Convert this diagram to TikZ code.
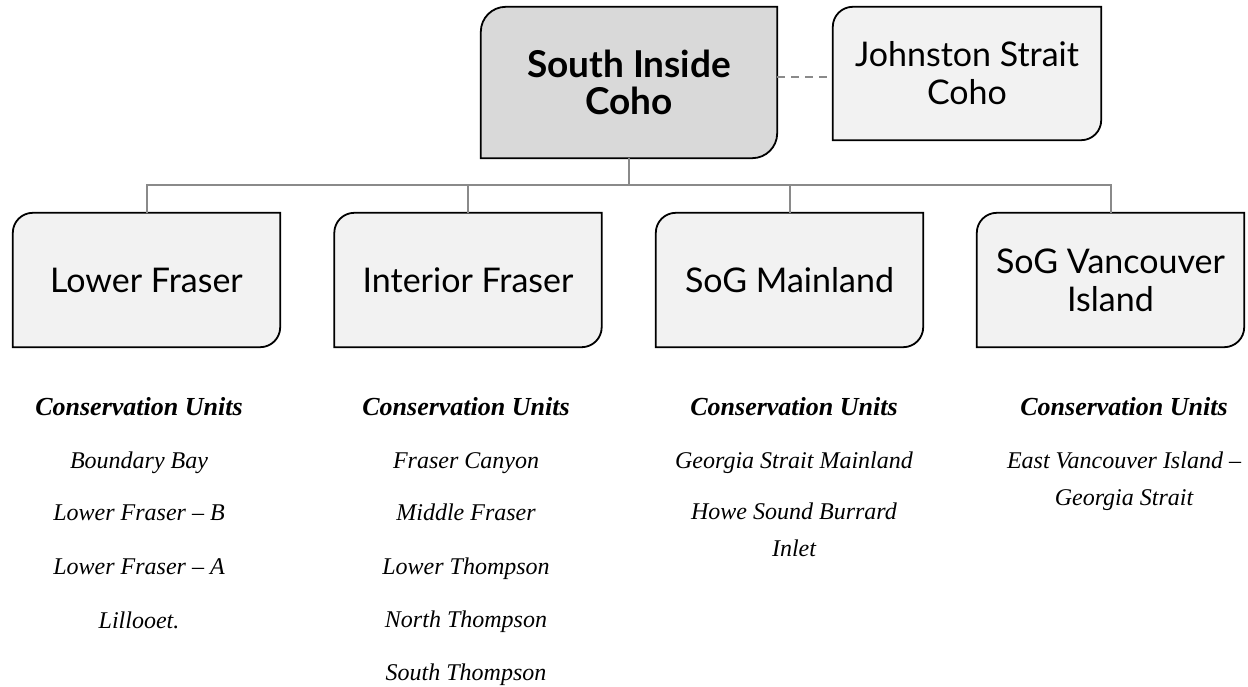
\documentclass[tikz,border=0pt]{standalone}
\usepackage{fontspec}
\setmainfont{Liberation Serif}
\newfontfamily\boxfont{Lato}
\usetikzlibrary{backgrounds}

\definecolor{rootfill}{HTML}{D9D9D9}
\definecolor{leaffill}{HTML}{F2F2F2}
\definecolor{linkgray}{HTML}{8A8A8A}

\tikzset{
  unitbox/.style={inner sep=0pt, align=center, minimum width=267pt, minimum height=134pt,
    font=\boxfont\fontsize{34}{38}\selectfont},
  rootbox/.style={unitbox, minimum width=296pt, minimum height=151pt,
    font=\boxfont\bfseries\fontsize{37}{37}\selectfont},
  sidebox/.style={unitbox, minimum width=268pt, minimum height=133pt},
  cuhead/.style={inner sep=0pt, anchor=base, font=\bfseries\itshape\fontsize{26}{30}\selectfont},
  cuitem/.style={inner sep=0pt, anchor=base, align=center, font=\itshape\fontsize{24}{37}\selectfont},
  link/.style={draw=linkgray, line width=2pt},
  looselink/.style={draw=linkgray, line width=2pt, dash pattern=on 8pt off 6pt},
  frame/.style={draw=black, line width=1.8pt}
}

% box outline with rounded top-left and bottom-right corners
\newcommand\cutframe[3]{% node, fill colour, corner radius
  \path[frame, fill=#2]
    ([yshift=-#3]#1.north west) arc[start angle=180, end angle=90, radius=#3]
    -- (#1.north east) -- ([yshift=#3]#1.south east)
    arc[start angle=0, end angle=-90, radius=#3] -- (#1.south west) -- cycle;}

\begin{document}
\begin{tikzpicture}[x=1pt, y=-1pt]
\useasboundingbox (0,0) rectangle (1248,687);

% group boxes
\node[rootbox] (root) at (629,82.5) {South Inside\\Coho};
\node[sidebox] (js) at (967,73.5) {Johnston Strait\\Coho};
\node[unitbox] (lf) at (146.5,280) {Lower Fraser};
\node[unitbox] (ifr) at (468,280) {Interior Fraser};
\node[unitbox] (sm) at (789.5,280) {SoG Mainland};
\node[unitbox] (vi) at (1110.5,280) {SoG Vancouver\\Island};

\begin{scope}[on background layer]
  \cutframe{root}{rootfill}{25pt}
  \cutframe{js}{leaffill}{20pt}
  \cutframe{lf}{leaffill}{20pt}
  \cutframe{ifr}{leaffill}{20pt}
  \cutframe{sm}{leaffill}{20pt}
  \cutframe{vi}{leaffill}{20pt}
\end{scope}

% connectors
\coordinate (bus) at (629,185.5);
\coordinate (sidey) at (800,77);
\draw[link] (root.south) -- (bus);
\draw[link] (lf.north) |- (bus);
\draw[link] (ifr.north) |- (bus);
\draw[link] (sm.north) |- (bus);
\draw[link] (vi.north) |- (bus);
\draw[looselink] (root.east |- sidey) -- (js.west |- sidey);

% conservation units
\node[cuhead] (lfh) at (139,415) {Conservation Units};
\node[cuitem] (lf1) at (139,468) {Boundary Bay};
\node[cuitem] (lf2) at (139,520) {Lower Fraser – B};
\node[cuitem] (lf3) at (139,574) {Lower Fraser – A};
\node[cuitem] (lf4) at (139,628) {Lillooet.};

\node[cuhead] (ifh) at (466,415) {Conservation Units};
\node[cuitem] (if1) at (466,468) {Fraser Canyon};
\node[cuitem] (if2) at (466,520) {Middle Fraser};
\node[cuitem] (if3) at (466,574) {Lower Thompson};
\node[cuitem] (if4) at (466,627) {North Thompson};
\node[cuitem] (if5) at (466,680) {South Thompson};

\node[cuhead] (smh) at (794,415) {Conservation Units};
\node[cuitem] (sm1) at (794,468) {Georgia Strait Mainland};
\node[cuitem, anchor=north] (sm2) at (794,503) {Howe Sound Burrard\\Inlet};

\node[cuhead] (vih) at (1124,415) {Conservation Units};
\node[cuitem, anchor=north] (vi1) at (1124,452) {East Vancouver Island –\\Georgia Strait};
\end{tikzpicture}
\end{document}
